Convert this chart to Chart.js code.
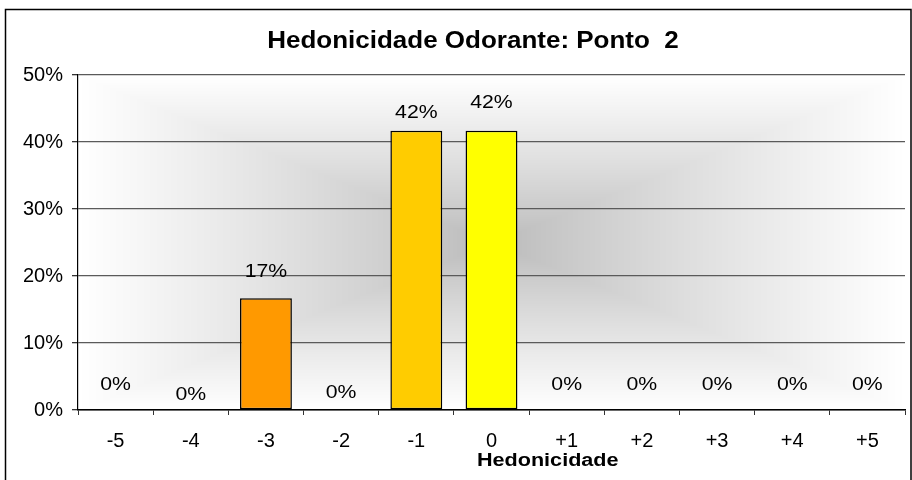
<!DOCTYPE html>
<html>
<head>
<meta charset="utf-8">
<script src="https://cdn.jsdelivr.net/npm/chart.js@4.4.1/dist/chart.umd.min.js"></script>
<style>
  html, body { margin: 0; padding: 0; background: #fff; }
  #wrap { width: 912px; height: 480px; }
</style>
</head>
<body>
<div id="wrap"><canvas id="c" width="912" height="480"></canvas></div>
<script>
  // dados
  const categorias = ['-5', '-4', '-3', '-2', '-1', '0', '+1', '+2', '+3', '+4', '+5'];
  const percentuais = [0, 0, 16.67, 0, 41.67, 41.67, 0, 0, 0, 0, 0];
  const rotulos = ['0%', '0%', '17%', '0%', '42%', '42%', '0%', '0%', '0%', '0%', '0%'];
  const tituloGrafico = 'Hedonicidade Odorante: Ponto  2';
  const tituloEixoX = 'Hedonicidade';

  const corBarras = ['#ff9900', '#ff9900', '#ff9900', '#ffcc00', '#ffcc00', '#ffff00',
                     '#ffff00', '#ffff00', '#ffff00', '#ffff00', '#ffff00'];
  // deslocamento vertical (px) dos rótulos, como no Excel original
  const elevacaoRotulo = [25, 15, 26, 17, 18, 28, 25, 25, 25, 25, 25];
  const fonte = "'Liberation Sans', Arial, sans-serif";
  const esticar = 1.18; // o original está levemente esticado na horizontal

  function textoEsticado(c, txt, x, y, fator) {
    c.save();
    c.translate(x, y);
    c.scale(fator, 1);
    c.fillText(txt, 0, 0);
    c.restore();
  }

  /**
   * Fundo da área de plotagem: gradiente retangular "do centro" (cinza -> branco).
   */
  const fundoGradiente = {
    id: 'fundoGradiente',
    beforeDraw(chart) {
      const a = chart.chartArea;
      const c = chart.ctx;
      const w = Math.round(a.right - a.left), h = Math.round(a.bottom - a.top);
      const img = c.createImageData(w, h);
      const hw = w / 2, hh = h / 2;
      for (let y = 0; y < h; y++) {
        for (let x = 0; x < w; x++) {
          const t = Math.max(Math.abs(x - hw) / hw, Math.abs(y - hh) / hh);
          const v = Math.round(185 + (255 - 185) * Math.pow(t, 0.85));
          const i = (y * w + x) * 4;
          img.data[i] = v; img.data[i + 1] = v; img.data[i + 2] = v; img.data[i + 3] = 255;
        }
      }
      c.putImageData(img, Math.round(a.left), Math.round(a.top));
    },
  };

  /**
   * Título, rótulos de dados, título do eixo X e moldura.
   */
  const extras = {
    id: 'extras',
    afterDatasetsDraw(chart) {
      const c = chart.ctx;
      const meta = chart.getDatasetMeta(0);
      c.save();
      c.fillStyle = '#000';
      c.font = '18px ' + fonte;
      c.textAlign = 'center';
      c.textBaseline = 'middle';
      meta.data.forEach((bar, i) => {
        textoEsticado(c, rotulos[i], bar.x, bar.y - elevacaoRotulo[i], esticar);
      });
      c.restore();
    },
    afterDraw(chart) {
      const c = chart.ctx;
      const a = chart.chartArea;
      c.save();
      c.fillStyle = '#000';
      c.textAlign = 'center';
      c.textBaseline = 'middle';
      c.font = 'bold 23px ' + fonte;
      textoEsticado(c, tituloGrafico, 473, 42, 1.13);
      c.font = 'bold 18px ' + fonte;
      textoEsticado(c, tituloEixoX, a.left + (a.right - a.left) * 0.568, 461, 1.2);
      c.strokeStyle = '#000';
      c.lineWidth = 1.5;
      c.strokeRect(5.5, 9.5, 905.5, 480);
      c.restore();
    },
  };

  new Chart(document.getElementById('c'), {
    type: 'bar',
    data: {
      labels: categorias,
      datasets: [{
        data: percentuais,
        backgroundColor: corBarras,
        borderColor: '#000',
        borderWidth: 1.5,
        borderSkipped: false,
        barPercentage: 0.69,
        categoryPercentage: 1,
      }],
    },
    options: {
      responsive: false,
      animation: false,
      devicePixelRatio: 1,
      layout: { padding: { left: 5, top: 75, right: 7, bottom: 0 } },
      plugins: {
        legend: { display: false },
        title: { display: false },
        tooltip: { enabled: false },
      },
      scales: {
        x: {
          afterFit: s => { s.height = 70; },
          grid: {
            offset: true,
            drawOnChartArea: false,
            drawTicks: true,
            tickLength: 5,
            color: '#333',
          },
          border: { display: true, color: '#000', width: 1.5 },
          ticks: { color: '#000', font: { family: fonte, size: 20 }, padding: 14, maxRotation: 0 },
        },
        y: {
          min: 0,
          max: 50,
          afterFit: s => { s.width = 73; },
          grid: {
            color: '#5a5a5a',
            lineWidth: 1.3,
            drawTicks: true,
            tickLength: 6,
            tickColor: '#333',
          },
          border: { display: true, color: '#000', width: 1.2 },
          ticks: {
            stepSize: 10,
            color: '#000',
            font: { family: fonte, size: 20 },
            padding: 9,
            callback: v => v + '%',
          },
        },
      },
    },
    plugins: [fundoGradiente, extras],
  });
</script>
</body>
</html>
